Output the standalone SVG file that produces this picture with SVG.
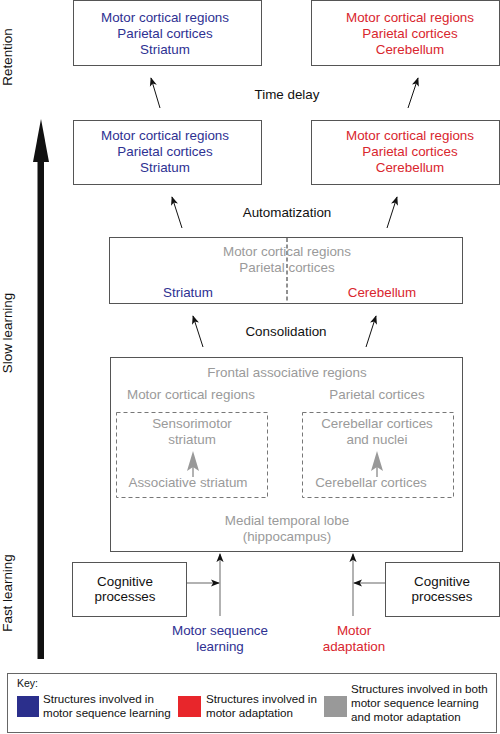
<svg xmlns="http://www.w3.org/2000/svg" width="500" height="734" viewBox="0 0 500 734">
<style>
text{font-family:"Liberation Sans",Arial,sans-serif;font-size:13.4px;text-anchor:middle}
.b{fill:#2e3192}.r{fill:#d9262e}.g{fill:#9a9a9a}.k{fill:#111}
.box{fill:#fff;stroke:#555;stroke-width:1}
.dash{fill:none;stroke:#777;stroke-width:1;stroke-dasharray:4,3}
.ln{stroke:#111;stroke-width:1;fill:none}
.gl{stroke:#999;stroke-width:1.5;fill:none}
.key{font-size:11.6px;text-anchor:start}
</style>
<defs>
<marker id="ah" viewBox="0 0 10 10" refX="9" refY="5" markerWidth="9" markerHeight="9" markerUnits="userSpaceOnUse" orient="auto">
<path d="M0,1 L10,5 L0,9 L2.5,5 Z" fill="#111"/>
</marker>
</defs>
<g id="axis">
<rect x="37.5" y="160" width="6.5" height="499" fill="#111"/>
<path d="M41,119 L49,162 L33,162 Z" fill="#111"/>
<text class="k" transform="translate(12,57) rotate(-90)">Retention</text>
<text class="k" transform="translate(12,333) rotate(-90)">Slow learning</text>
<text class="k" transform="translate(12,593) rotate(-90)">Fast learning</text>
</g>
<g id="ret-seq">
<rect class="box" x="73.5" y="0.5" width="188" height="65"/>
<text class="b" x="165" y="22">Motor cortical regions</text>
<text class="b" x="165" y="38">Parietal cortices</text>
<text class="b" x="165" y="54">Striatum</text>
</g>
<g id="ret-adapt">
<rect class="box" x="311.5" y="0.5" width="188" height="65"/>
<text class="r" x="410" y="22">Motor cortical regions</text>
<text class="r" x="410" y="38">Parietal cortices</text>
<text class="r" x="410" y="54">Cerebellum</text>
</g>
<g id="auto-seq">
<rect class="box" x="73.5" y="120.5" width="188" height="64"/>
<text class="b" x="165" y="140">Motor cortical regions</text>
<text class="b" x="165" y="156">Parietal cortices</text>
<text class="b" x="165" y="172">Striatum</text>
</g>
<g id="auto-adapt">
<rect class="box" x="311.5" y="120.5" width="188" height="64"/>
<text class="r" x="410" y="140">Motor cortical regions</text>
<text class="r" x="410" y="156">Parietal cortices</text>
<text class="r" x="410" y="172">Cerebellum</text>
</g>
<g id="consol">
<rect class="box" x="109.5" y="237.5" width="353" height="66"/>
<line x1="287" y1="238" x2="287" y2="303" stroke="#222" stroke-width="1" stroke-dasharray="4,2.5"/>
<text class="g" x="287" y="256">Motor cortical regions</text>
<text class="g" x="287" y="272">Parietal cortices</text>
<text class="b" x="188" y="297">Striatum</text>
<text class="r" x="382" y="297">Cerebellum</text>
</g>
<g id="fast">
<rect class="box" x="110.5" y="357.5" width="352" height="194"/>
<text class="g" x="287" y="377">Frontal associative regions</text>
<text class="g" x="191" y="399">Motor cortical regions</text>
<text class="g" x="377" y="399">Parietal cortices</text>
<rect class="dash" x="116.5" y="412.5" width="151" height="85"/>
<rect class="dash" x="302.5" y="412.5" width="151" height="85"/>
<text class="g" x="192" y="428">Sensorimotor</text>
<text class="g" x="192" y="444">striatum</text>
<text class="g" x="188" y="487">Associative striatum</text>
<text class="g" x="377" y="428">Cerebellar cortices</text>
<text class="g" x="377" y="444">and nuclei</text>
<text class="g" x="371" y="487">Cerebellar cortices</text>
<line x1="193" y1="477" x2="193" y2="465" stroke="#999" stroke-width="1.5"/>
<path d="M193,451 L199,471 L193,467 L187,471 Z" fill="#999"/>
<line x1="377" y1="477" x2="377" y2="465" stroke="#999" stroke-width="1.5"/>
<path d="M377,451 L383,471 L377,467 L371,471 Z" fill="#999"/>
<text class="g" x="287" y="525">Medial temporal lobe</text>
<text class="g" x="287" y="541">(hippocampus)</text>
</g>
<g id="cog-left">
<rect class="box" x="72.5" y="562.5" width="114" height="54"/>
<text class="k" x="125" y="586">Cognitive</text>
<text class="k" x="125" y="601">processes</text>
</g>
<g id="cog-right">
<rect class="box" x="385.5" y="562.5" width="114" height="54"/>
<text class="k" x="442" y="586">Cognitive</text>
<text class="k" x="442" y="601">processes</text>
</g>
<g id="labels">
<text class="k" x="287" y="99">Time delay</text>
<text class="k" x="287" y="217">Automatization</text>
<text class="k" x="286" y="336">Consolidation</text>
<text class="b" x="220" y="635">Motor sequence</text>
<text class="b" x="220" y="651">learning</text>
<text class="r" x="354" y="635">Motor</text>
<text class="r" x="354" y="651">adaptation</text>
</g>
<g id="connectors">
<line class="ln" x1="160" y1="108" x2="151" y2="78" marker-end="url(#ah)"/>
<line class="ln" x1="408" y1="108" x2="418" y2="78" marker-end="url(#ah)"/>
<line class="ln" x1="182" y1="228" x2="172" y2="197" marker-end="url(#ah)"/>
<line class="ln" x1="387" y1="228" x2="397" y2="197" marker-end="url(#ah)"/>
<line class="ln" x1="203" y1="347" x2="193" y2="316" marker-end="url(#ah)"/>
<line class="ln" x1="366" y1="347" x2="376" y2="316" marker-end="url(#ah)"/>
<line class="gl" x1="220" y1="616" x2="220" y2="554" marker-end="url(#ah)"/>
<line class="gl" x1="353" y1="616" x2="353" y2="554" marker-end="url(#ah)"/>
<line class="gl" x1="187" y1="583" x2="219" y2="583" marker-end="url(#ah)"/>
<line class="gl" x1="385" y1="583" x2="354" y2="583" marker-end="url(#ah)"/>
</g>
<g id="key">
<rect x="7.5" y="673.5" width="489" height="59" fill="#fff" stroke="#666" stroke-width="1"/>
<text class="k key" x="17" y="687" style="font-size:10.5px">Key:</text>
<rect x="17" y="696" width="22" height="21" fill="#2b2f8c"/>
<text class="k key" x="43" y="703">Structures involved in</text>
<text class="k key" x="43" y="717">motor sequence learning</text>
<rect x="178" y="696" width="23" height="21" fill="#e8262b"/>
<text class="k key" x="206" y="703">Structures involved in</text>
<text class="k key" x="206" y="717">motor adaptation</text>
<rect x="324" y="696" width="23" height="21" fill="#999"/>
<text class="k key" x="351" y="693">Structures involved in both</text>
<text class="k key" x="351" y="707">motor sequence learning</text>
<text class="k key" x="351" y="721">and motor adaptation</text>
</g>
</svg>
